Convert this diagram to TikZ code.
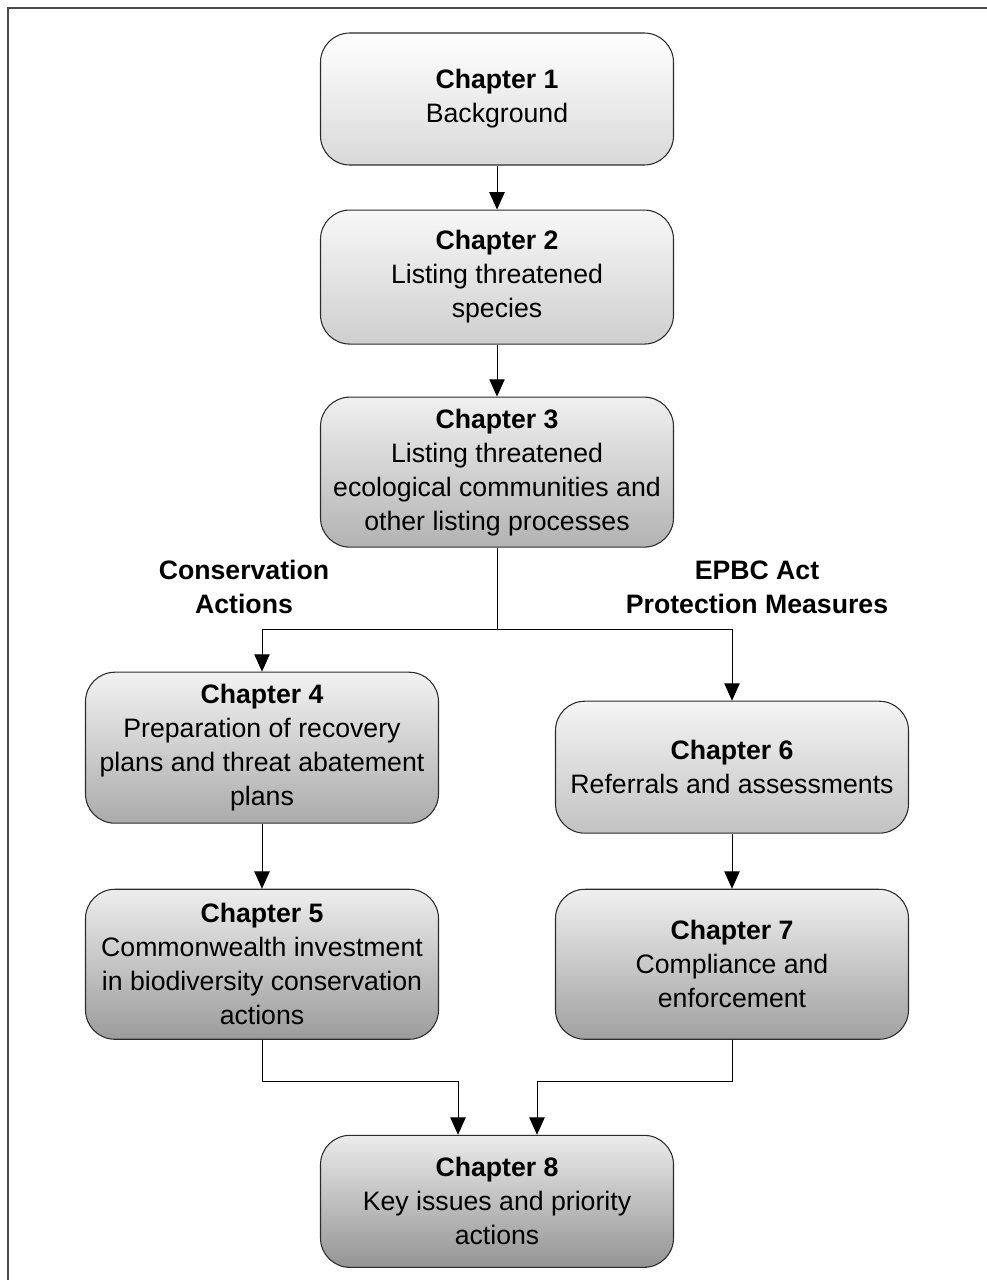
\documentclass[tikz,border=0pt]{standalone}
\usepackage{fontspec}
\setmainfont{Liberation Sans}
\usetikzlibrary{arrows.meta,positioning,calc}
\definecolor{Frame}{HTML}{4A4A4A}
\definecolor{Edge}{HTML}{2B2B2B}
\tikzset{
  chap/.style={draw=Edge,line width=.8pt,rounded corners=22pt,minimum width=264.75pt,inner sep=2pt,align=center,font=\fontsize{20}{25.5}\selectfont},
  grp/.style={align=center,font=\fontsize{20}{25.5}\selectfont\bfseries},
  flow/.style={-{Triangle[length=13pt,width=11.5pt]},draw=black,line width=.75pt},
  link/.style={draw=black,line width=.75pt},
}

\begin{document}
\begin{tikzpicture}[node distance=33pt and 0pt]
  \useasboundingbox (0,0) rectangle (740.25pt,-960pt);
  \draw[Frame,line width=1.5pt] (6pt,-960pt) -- (6pt,-6pt) -- (740.25pt,-6pt);
  % main column
  \node[chap,minimum height=99pt,top color=white,bottom color=black!15] (c1) at (372.75pt,-74.25pt) {\textbf{Chapter 1}\\Background};
  \node[chap,minimum height=100.5pt,below=33pt of c1,top color=black!3,bottom color=black!19] (c2) {\textbf{Chapter 2}\\Listing threatened\\species};
  \node[chap,minimum height=112.5pt,below=39pt of c2,top color=black!6,bottom color=black!30] (c3) {\textbf{Chapter 3}\\Listing threatened\\ecological communities and\\other listing processes};
  % two branches
  \node[chap,minimum height=113.25pt,below=93pt of c3,xshift=-176.25pt,top color=black!5,bottom color=black!33] (c4) {\textbf{Chapter 4}\\Preparation of recovery\\plans and threat abatement\\plans};
  \node[chap,minimum height=112.5pt,below=48.75pt of c4,top color=black!7,bottom color=black!39] (c5) {\textbf{Chapter 5}\\Commonwealth investment\\in biodiversity conservation\\actions};
  \node[chap,minimum height=99pt,below=114.75pt of c3,xshift=176.25pt,top color=black!4,bottom color=black!24] (c6) {\textbf{Chapter 6}\\Referrals and assessments};
  \node[chap,minimum height=112.5pt,below=41.25pt of c6,top color=black!6,bottom color=black!37] (c7) {\textbf{Chapter 7}\\Compliance and\\enforcement};
  \node[chap,minimum height=99pt,below=71.25pt of c5,xshift=176.25pt,top color=black!8,bottom color=black!42] (c8) {\textbf{Chapter 8}\\Key issues and priority\\actions};
  % group headings
  \node[grp] (cons) at (183pt,-440.25pt) {Conservation\\Actions};
  \node[grp] (epbc) at (567.75pt,-440.25pt) {EPBC Act\\Protection Measures};
  % connectors
  \coordinate[below=61.5pt of c3.south] (split);
  \coordinate (m5) at ($(c8.north)+(-29.25pt,39.75pt)$);
  \coordinate (m7) at ($(c8.north)+(30pt,39.75pt)$);
  \draw[flow] (c1) -- (c2);
  \draw[flow] (c2) -- (c3);
  \draw[link] (c3) -- (split);
  \draw[flow] (split) -| (c4);
  \draw[flow] (split) -| (c6);
  \draw[flow] (c4) -- (c5);
  \draw[flow] (c6) -- (c7);
  \draw[flow] (c5.south) |- (m5) -- (m5 |- c8.north);
  \draw[flow] (c7.south) |- (m7) -- (m7 |- c8.north);
\end{tikzpicture}
\end{document}
